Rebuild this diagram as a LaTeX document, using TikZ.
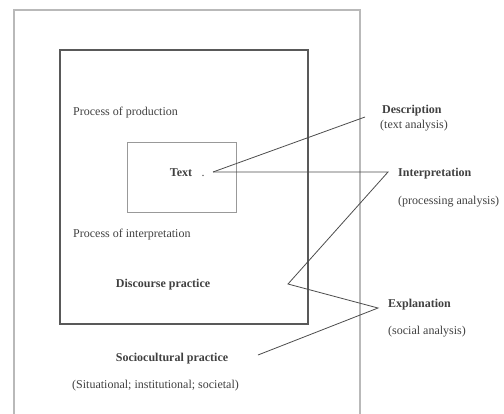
\documentclass[tikz,border=0pt]{standalone}
\usepackage{fontspec}
\setmainfont{Liberation Serif}

\begin{document}
\begin{tikzpicture}[x=1pt, y=-1pt,
  every node/.style={font=\fontsize{12}{14}\selectfont, text=black!75, inner sep=0pt},
  heading/.style={font=\fontsize{12}{14}\selectfont\bfseries},
  frame/.style={draw=gray!80, line width=1pt},
  link/.style={draw=black!70, line width=0.8pt}]
  \useasboundingbox (0,0) rectangle (504,413);
  \clip (0,0) rectangle (504,413);
  % the three nested dimensions
  \draw[draw=gray!55, line width=1.4pt] (14,10) rectangle (360,440);
  \draw[draw=black!65, line width=1.8pt] (60,50) rectangle (308,324);
  \draw[frame] (127,142) rectangle (236,212);
  % labels inside the boxes
  \node[heading] (text) at (181,173) {Text};
  \node (dot) at (203,176) {.};
  \coordinate (hub) at (213,172);
  \node[anchor=west] (prod) at (73,113) {Process of production};
  \node[anchor=west] (interp) at (73,235) {Process of interpretation};
  \node[heading] (disc) at (163,285) {Discourse practice};
  \node[heading] (socio) at (172,359) {Sociocultural practice};
  \node[anchor=west] (scope) at (72,386) {(Situational; institutional; societal)};
  % labels of the stages of analysis
  \node[heading, anchor=west] (descr) at (382,111) {Description};
  \node[anchor=west] (descrsub) at (380,126) {(text analysis)};
  \node[heading, anchor=west] (interpr) at (398,174) {Interpretation};
  \node[anchor=west] (interprsub) at (398,202) {(processing analysis)};
  \node[heading, anchor=west] (expl) at (388,305) {Explanation};
  \node[anchor=west] (explsub) at (388,332) {(social analysis)};
  % connectors
  \coordinate (descrend) at (365,117);
  \coordinate (interprtip) at (388,172);
  \coordinate (disctip) at (288,284);
  \coordinate (expltip) at (378,308);
  \coordinate (socioend) at (258,355);
  \draw[link] (hub) -- (descrend);
  \draw[link] (hub) -- (interprtip) -- (disctip) -- (expltip) -- (socioend);
\end{tikzpicture}
\end{document}
